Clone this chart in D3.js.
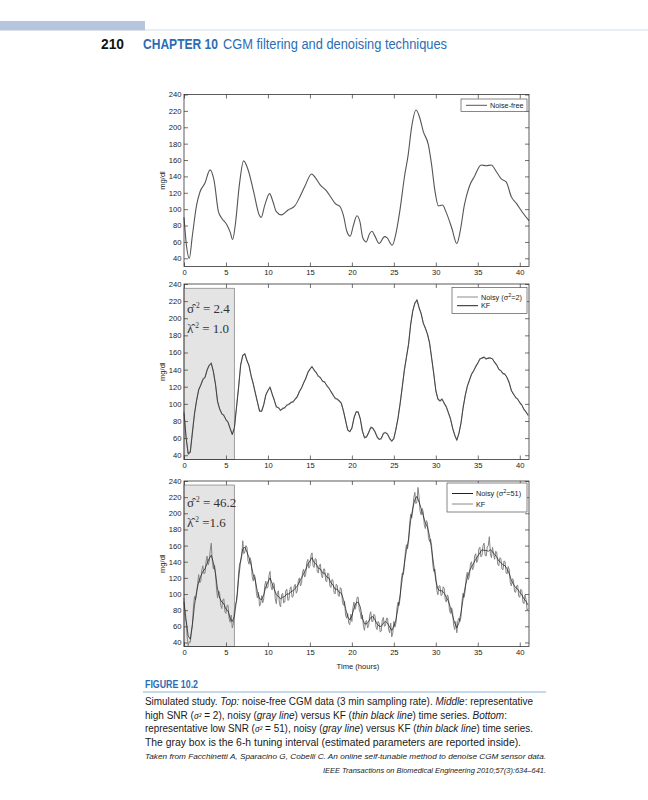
<!DOCTYPE html>
<html><head><meta charset="utf-8">
<script src="https://cdn.jsdelivr.net/npm/d3@7"></script>
<style>body{margin:0;background:#fff}</style>
</head><body>
<svg id="c" width="648" height="800" xmlns="http://www.w3.org/2000/svg"></svg>
<script>
// ---------------- DATA ----------------
const xTicks = [0, 5, 10, 15, 20, 25, 30, 35, 40];
const yTicks = [40, 60, 80, 100, 120, 140, 160, 180, 200, 220, 240];
const sampleStepHours = 0.25;
const lowNoisyStepHours = 0.125;

// Top: noise-free CGM (key points)
const cleanTimes = [0,0.3,0.63,1.0,1.5,1.9,2.5,3.1,3.6,4.1,4.5,5.1,5.5,5.8,6.1,6.6,7.1,7.7,8.3,9.0,9.2,9.6,10.2,10.6,11.0,11.6,12.4,13.2,13.8,14.4,15.2,15.6,16.2,17.0,17.6,18.0,18.6,19.0,19.4,19.8,20.2,20.6,20.95,21.3,21.7,22.1,22.4,22.7,23.25,23.9,24.2,24.8,25.3,25.7,26.3,26.7,27.1,27.65,28.1,28.5,29.1,29.5,29.9,30.3,30.8,31.2,31.9,32.5,32.9,33.4,34.0,34.6,35.4,36.0,36.6,37.2,37.8,38.4,39.0,39.6,40.4,41.1];
const cleanValues = [90,55,40,68,105,121,132,148,134,97,89,81,72,63,80,130,159,146,121,92,90,104,119,109,97,93,99,104,115,128,143,139,130,122,113,107,103,92,73,67,81,92,85,65,60,70,73,68,58,66.5,65,56,73,97,142,166,199,221,211,195,179,154,122,104,105,97,77,58,73,105,128,140,154,153,154,146,137,133,115,107,95,86];

// Middle: high SNR (sigma^2 = 2)
const midNoisy = [
 91,61,41,45,67,89,104,117,122,129,
 131,140,145,148,137,123,102,94,88,87,
 81,79,71,65,71,96,119,146,156,159,
 150,145,132,124,112,102,91,92,99,111,
 115,120,111,105,96,96,92,95,95,99,
 99,102,102,106,108,115,118,125,129,137,
 140,144,139,137,132,131,126,126,121,119,
 114,111,106,106,103,101,91,81,69,68,
 71,84,90,91,82,69,60,62,66,73,
 71,68,61,59,59,66,66,65,59,57,
 59,71,83,101,119,140,154,170,192,209,
 217,222,212,206,194,189,181,172,153,136,
 115,106,103,106,100,97,89,83,71,64,
 57,66,77,96,109,121,127,135,138,144,
 147,153,153,155,152,154,153,153,148,146,
 140,139,135,135,130,125,115,112,107,106,
 101,99,93,91,86];
const midKF = [
 89,60,42,43,66,88,104,116,122,128,
 131,139,145,147,138,123,103,94,89,86,
 82,78,71,64,72,95,119,145,157,158,
 151,144,133,123,113,102,92,91,99,110,
 116,119,112,104,97,95,93,94,96,98,
 100,101,103,105,109,114,119,124,130,136,
 141,143,140,136,133,130,127,125,122,118,
 115,110,107,105,104,100,92,80,70,67,
 72,83,91,90,83,68,61,61,67,72,
 72,67,62,58,60,65,67,64,60,56,
 60,70,84,100,120,139,155,169,193,208,
 218,221,213,205,195,188,182,171,154,135,
 116,105,104,105,101,96,90,82,72,63,
 58,65,78,95,110,120,128,134,139,143,
 148,152,154,154,153,153,154,152,149,145,
 141,138,136,134,131,124,116,111,108,105,
 102,98,94,90,87];

// Bottom: low SNR (sigma^2 = 51), sampled every 7.5 min
const lowNoisy = [
 95,70,66,47,36,41,40,52,62,84,97,93,100,113,124,114,116,130,135,125,
 126,140,147,136,140,154,163,140,131,136,128,106,95,104,101,86,82,93,94,78,
 76,86,86,70,65,74,58,63,79,88,90,101,126,138,140,146,166,150,152,160,
 158,141,137,145,140,122,116,124,120,101,95,102,85,88,98,89,94,111,116,107,
 109,123,128,109,105,114,113,94,88,102,104,88,84,99,101,89,90,104,106,92,
 93,106,109,96,97,110,112,101,104,117,120,110,113,127,131,121,124,139,143,132,
 135,148,151,135,133,144,143,128,126,136,137,123,120,131,131,117,115,126,125,110,
 108,118,117,102,100,112,111,98,97,108,106,90,86,91,74,70,76,64,62,75,
 66,83,90,81,85,96,96,81,77,69,74,60,55,66,67,58,61,74,78,66,
 66,75,73,59,56,66,64,53,54,68,71,60,61,70,70,56,52,64,47,52,
 66,59,64,83,90,86,95,116,126,124,133,153,161,156,164,187,199,194,203,219,
 226,212,214,232,221,203,198,206,202,186,181,191,188,170,165,168,160,138,128,131,
 121,104,99,110,110,98,99,109,107,93,90,99,96,80,76,83,78,61,56,66,
 52,67,70,66,72,92,101,96,104,121,127,118,122,137,140,130,133,147,150,139,
 142,156,158,146,148,160,163,148,147,158,160,171,150,145,158,150,143,153,152,137,
 135,145,144,131,130,141,140,126,125,134,130,114,110,119,117,103,102,110,111,97,
 96,106,104,90,88,99,93,80,82];
const lowKF = [
 90,68,48,44,62,86,103,115,122,128,
 131,138,144,148,139,125,106,95,90,88,
 81,79,70,66,72,92,118,142,156,158,
 152,145,136,124,116,103,94,93,99,109,
 115,120,113,106,99,97,94,96,97,100,
 100,103,104,107,110,115,120,125,130,137,
 141,145,139,137,132,131,126,126,121,120,
 114,111,106,106,102,101,93,82,72,68,
 73,82,89,90,84,70,63,63,66,71,
 72,68,63,60,60,64,66,64,59,55,
 60,68,83,99,119,138,154,168,191,206,
 217,221,214,206,197,188,183,172,155,136,
 117,106,104,104,101,96,91,83,73,64,
 58,64,77,94,109,120,128,134,138,143,
 147,151,155,154,154,153,155,152,149,146,
 141,139,136,135,131,125,117,112,108,106,
 102,99,94,91,86];

const tuningInterval = [0, 6];
const tuningTop = 235;

// ---------------- DRAW ----------------
const svg = d3.select("#c");
const tickFont = "'Liberation Sans', Arial, sans-serif";

// Header
svg.append("rect").attr("x",0).attr("y",21).attr("width",145).attr("height",9.5).attr("fill","#b7c5dd");
svg.append("line").attr("x1",145).attr("x2",648).attr("y1",30).attr("y2",30).attr("stroke","#d3dbea").attr("stroke-width",1);
const hdrFont = "'Liberation Sans Narrow','Arial Narrow','Liberation Sans',sans-serif";
svg.append("text").attr("x",101).attr("y",49).attr("font-family",hdrFont).attr("font-weight","bold")
  .attr("font-size",14).attr("fill","#111").attr("textLength",23).attr("lengthAdjust","spacingAndGlyphs").text("210");
svg.append("text").attr("x",143).attr("y",49).attr("font-family",hdrFont).attr("font-weight","bold")
  .attr("font-size",14).attr("fill","#2a6db5").attr("textLength",75).attr("lengthAdjust","spacingAndGlyphs").text("CHAPTER 10");
svg.append("text").attr("x",223).attr("y",49).attr("font-family",hdrFont)
  .attr("font-size",14).attr("fill","#2a6db5").attr("textLength",224).attr("lengthAdjust","spacingAndGlyphs").text("CGM filtering and denoising techniques");

const x = d3.scaleLinear().domain([0, 41.1]).range([184, 529]);
const lineGen = (yS) => d3.line().x(d => x(d[0])).y(d => yS(d[1]));
const series = (vals, step) => vals.map((v, i) => [i * step, v]);

function panel(cfg) {
  const y = d3.scaleLinear().domain([cfg.yMin, 240]).range([cfg.bottom, cfg.top]);
  const g = svg.append("g");
  if (cfg.box) {
    g.append("rect").attr("x", x(tuningInterval[0])).attr("y", y(tuningTop))
      .attr("width", x(tuningInterval[1]) - x(tuningInterval[0])).attr("height", cfg.bottom - y(tuningTop))
      .attr("fill", "#e4e4e4").attr("stroke", "#8a8a8a").attr("stroke-width", 0.8);
  }
  const ax = (gen, tr) => {
    const a = g.append("g").attr("transform", tr).call(gen);
    a.select(".domain").remove();
    a.selectAll("line").attr("stroke", "#333").attr("stroke-width", 0.7);
    a.selectAll("text").attr("font-family", tickFont).attr("font-size", 7.6).attr("fill", "#1a1a1a");
    return a;
  };
  ax(d3.axisBottom(x).tickValues(xTicks).tickSize(-4).tickPadding(3.5).tickFormat(d3.format("d")), `translate(0,${cfg.bottom})`);
  ax(d3.axisTop(x).tickValues(xTicks).tickSize(-4).tickFormat(""), `translate(0,${cfg.top})`);
  ax(d3.axisLeft(y).tickValues(yTicks).tickSize(-4).tickPadding(2.5).tickFormat(d3.format("d")), `translate(${x.range()[0]},0)`);
  ax(d3.axisRight(y).tickValues(yTicks).tickSize(-4).tickFormat(""), `translate(${x.range()[1]},0)`);

  cfg.lines.forEach(l => {
    g.append("path").datum(l.data).attr("d", lineGen(y).curve(l.curve || d3.curveLinear))
      .attr("fill", "none").attr("stroke", l.color).attr("stroke-width", l.width).attr("stroke-linejoin", "round");
  });
  g.append("rect").attr("x", x.range()[0]).attr("y", cfg.top).attr("width", x.range()[1] - x.range()[0])
    .attr("height", cfg.bottom - cfg.top).attr("fill", "none").attr("stroke", "#333").attr("stroke-width", 0.8);
  g.append("text").attr("transform", `translate(165,${(cfg.top + cfg.bottom) / 2}) rotate(-90)`)
    .attr("text-anchor", "middle").attr("font-family", tickFont).attr("font-size", 7.6).attr("fill", "#1a1a1a").text("mg/dl");
  const L = cfg.legend;
  g.append("rect").attr("x", L.x).attr("y", L.y).attr("width", L.w).attr("height", L.h)
    .attr("fill", "#fff").attr("stroke", "#555").attr("stroke-width", 0.7);
  L.items.forEach((it, i) => {
    const yy = L.y + L.first + i * L.gap;
    g.append("line").attr("x1", L.x + 5).attr("x2", L.x + 5 + L.lineLen).attr("y1", yy).attr("y2", yy)
      .attr("stroke", it.color).attr("stroke-width", 1);
    const t = g.append("text").attr("x", L.x + 8 + L.lineLen).attr("y", yy + 2.6)
      .attr("font-family", tickFont).attr("font-size", 7.3).attr("fill", "#222");
    if (it.sig) {
      t.append("tspan").text("Noisy (σ");
      t.append("tspan").attr("dy", -3).attr("font-size", 5.5).text("2");
      t.append("tspan").attr("dy", 3).text("=" + it.sig + ")");
    } else t.text(it.label);
  });
  if (cfg.params) {
    const serif = "'Liberation Serif','Times New Roman',serif";
    cfg.params.forEach((p, i) => {
      const t = g.append("text").attr("x", 187).attr("y", cfg.paramY[i]).attr("font-family", serif)
        .attr("font-size", 13).attr("fill", "#333");
      t.append("tspan").text(p.sym);
      t.append("tspan").attr("dy", -5).attr("font-size", 7.5).text(" 2");
      t.append("tspan").attr("dy", 5).text(p.eq);
    });
  }
  return y;
}

panel({
  top: 94.5, bottom: 266.5, yMin: 30,
  lines: [{ data: cleanTimes.map((t, i) => [t, cleanValues[i]]), color: "#555", width: 1.1, curve: d3.curveMonotoneX }],
  legend: { x: 461, y: 99, w: 66, h: 12.5, first: 6.3, gap: 0, lineLen: 21, items: [{ label: "Noise-free", color: "#555" }] }
});

panel({
  top: 284, bottom: 459.5, yMin: 35, box: true,
  lines: [{ data: series(midNoisy, sampleStepHours), color: "#8c8c8c", width: 1.1 }, { data: series(midKF, sampleStepHours), color: "#222", width: 0.7 }],
  legend: { x: 452, y: 287.5, w: 75, h: 26, first: 9.5, gap: 8.7, lineLen: 21,
    items: [{ sig: "2", color: "#8c8c8c" }, { label: "KF", color: "#222" }] },
  params: [{ sym: "σ̂", eq: " = 2.4" }, { sym: "λ̂", eq: " = 1.0" }], paramY: [313, 333]
});

panel({
  top: 481, bottom: 646.5, yMin: 35, box: true,
  lines: [{ data: series(lowNoisy, lowNoisyStepHours), color: "#858585", width: 1.0 }, { data: series(lowKF, sampleStepHours), color: "#1a1a1a", width: 0.7 }],
  legend: { x: 447, y: 483, w: 80, h: 29, first: 10.5, gap: 10.5, lineLen: 21,
    items: [{ sig: "51", color: "#222" }, { label: "KF", color: "#888" }] },
  params: [{ sym: "σ̂", eq: " = 46.2" }, { sym: "λ̂", eq: " =1.6" }], paramY: [507, 527]
});
svg.append("text").attr("x", 358).attr("y", 669).attr("text-anchor", "middle").attr("font-family", tickFont)
  .attr("font-size", 7.6).attr("fill", "#1a1a1a").text("Time (hours)");

// Caption
svg.append("text").attr("x", 145).attr("y", 688).attr("font-family", hdrFont).attr("font-weight", "bold")
  .attr("font-size", 11.5).attr("fill", "#2a6db5").attr("textLength", 53).attr("lengthAdjust", "spacingAndGlyphs").text("FIGURE 10.2");
svg.append("line").attr("x1", 143).attr("x2", 546).attr("y1", 692).attr("y2", 692).attr("stroke", "#6d9fd1").attr("stroke-width", 0.8);

const capFont = "'Liberation Sans', Arial, sans-serif";
function capLine(yv, parts, len, opts = {}) {
  const t = svg.append("text").attr("x", opts.anchorEnd ? 546 : 145).attr("y", yv)
    .attr("font-family", capFont).attr("font-size", opts.size || 10).attr("fill", "#1a1a1a")
    .attr("text-anchor", opts.anchorEnd ? "end" : "start");
  if (opts.italic) t.attr("font-style", "italic");
  if (len) t.attr("textLength", len).attr("lengthAdjust", "spacingAndGlyphs");
  parts.forEach(p => {
    const s = t.append("tspan").text(p.t);
    if (p.i) s.attr("font-style", "italic");
    if (p.m) s.attr("font-style", "italic").attr("font-family", "'Liberation Serif',serif").attr("font-size", 9.5);
  });
}
capLine(705, [{ t: "Simulated study. " }, { t: "Top:", i: 1 }, { t: " noise-free CGM data (3 min sampling rate). " }, { t: "Middle", i: 1 }, { t: ": representative" }], 388);
capLine(718.5, [{ t: "high SNR (" }, { t: "σ²", m: 1 }, { t: " = 2), noisy (" }, { t: "gray line", i: 1 }, { t: ") versus KF (" }, { t: "thin black line", i: 1 }, { t: ") time series. " }, { t: "Bottom", i: 1 }, { t: ":" }], 362);
capLine(732, [{ t: "representative low SNR (" }, { t: "σ²", m: 1 }, { t: " = 51), noisy (" }, { t: "gray line", i: 1 }, { t: ") versus KF (" }, { t: "thin black line", i: 1 }, { t: ") time series." }], 388);
capLine(746, [{ t: "The gray box is the 6-h tuning interval (estimated parameters are reported inside)." }], 376);
capLine(759, [{ t: "Taken from Facchinetti A, Sparacino G, Cobelli C. An online self-tunable method to denoise CGM sensor data." }], 401, { italic: 1, size: 7.6 });
capLine(773, [{ t: "IEEE Transactions on Biomedical Engineering 2010;57(3):634\u2013641." }], 223, { italic: 1, size: 7.6, anchorEnd: 1 });
</script>
</body></html>
